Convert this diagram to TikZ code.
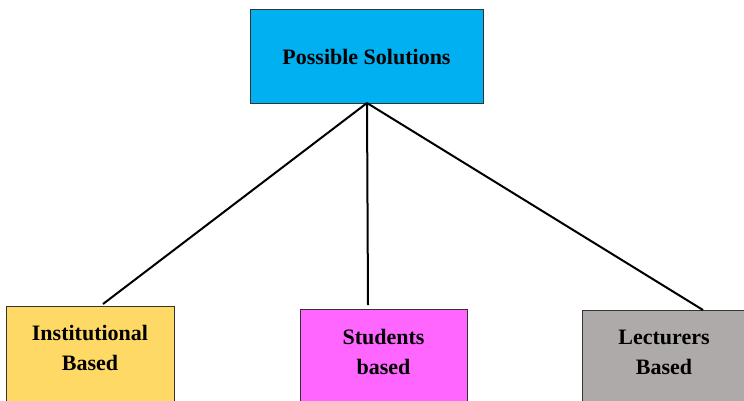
\documentclass[tikz,border=0pt]{standalone}
\usepackage{fontspec}
\setmainfont{Liberation Serif}
\begin{document}
\begin{tikzpicture}[x=1pt,y=-1pt,
  box/.style={draw=black!80,line width=0.9pt,rectangle,inner sep=0pt},
  lbl/.style={font=\bfseries\fontsize{22}{30}\selectfont,align=center,text=black},
  link/.style={line width=2pt,black}]
\useasboundingbox (0,0) rectangle (744,400);
\clip (0,0) rectangle (744,400);
\definecolor{topblue}{HTML}{00B0F0}
\definecolor{instyellow}{HTML}{FFD966}
\definecolor{studpink}{HTML}{FF66FF}
\definecolor{lectgray}{HTML}{AEAAAA}

% root box
\node[box,fill=topblue,minimum width=233pt,minimum height=94pt] (root) at (366.5,56) {};
\node[lbl] (rootlbl) at (366.5,57) {Possible Solutions};

% child boxes, running past the lower edge
\node[box,fill=instyellow,anchor=north west,minimum width=168pt,minimum height=160pt] (inst) at (6,306) {};
\node[lbl] (instlbl) at (90,348) {Institutional\\Based};

\node[box,fill=studpink,anchor=north west,minimum width=167pt,minimum height=160pt] (stud) at (300,309) {};
\node[lbl] (studlbl) at (383.5,352) {Students\\based};

\node[box,fill=lectgray,anchor=north west,minimum width=170pt,minimum height=160pt] (lect) at (582,310) {};
\node[lbl] (lectlbl) at (664,352) {Lecturers\\Based};

% attachment points of the connectors
\coordinate (hub) at (367,103);
\coordinate (instend) at (103,304);
\coordinate (studend) at (368,305);
\coordinate (lectend) at (703,310);

\draw[link] (hub) -- (instend);
\draw[link] (hub) -- (studend);
\draw[link] (hub) -- (lectend);
\end{tikzpicture}
\end{document}
